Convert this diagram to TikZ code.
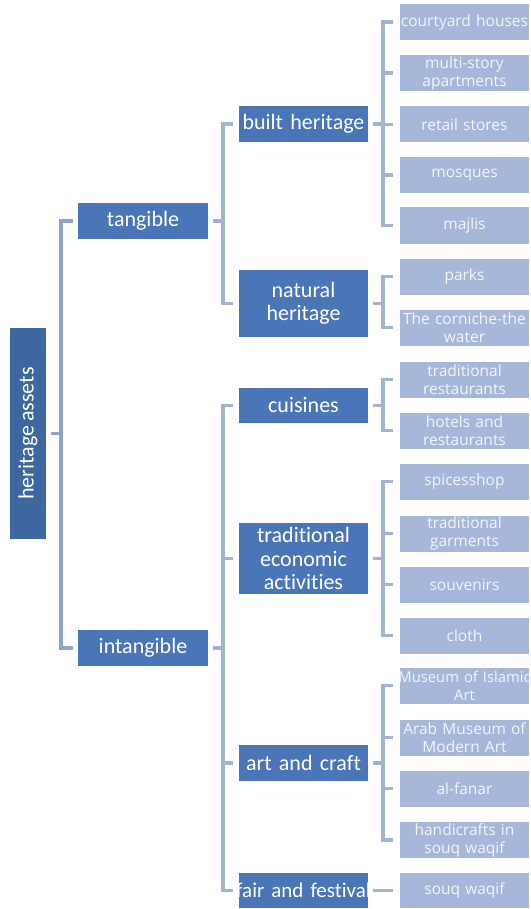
\documentclass[tikz,border=0pt]{standalone}
\usepackage{fontspec}
\setmainfont{Carlito}[Ligatures=NoCommon,WordSpace=0.8]
\newfontfamily\leaffont{Open Sans}
\definecolor{rootblue}{HTML}{3D679E}
\definecolor{midblue}{HTML}{4A76B8}
\definecolor{leafblue}{HTML}{A7B7D9}
\definecolor{connc}{HTML}{A3B3D4}
\definecolor{rootconn}{HTML}{8EA4CB}
\definecolor{leaftext}{HTML}{F2F5FB}
\newcommand{\fitline}[1]{\makebox[\linewidth][c]{#1}}
\begin{document}
\begin{tikzpicture}[x=1pt,y=-1pt,
  rootbox/.style={draw=none,fill=rootblue,text=white,inner sep=0pt,font=\fontsize{22}{26}\selectfont,minimum width=211pt,minimum height=36pt,rotate=90},
  topbox/.style={draw=none,fill=midblue,text=white,inner sep=0pt,font=\fontsize{22}{26}\selectfont,minimum width=130pt,minimum height=36pt},
  midbox/.style={draw=none,fill=midblue,text=white,inner sep=0pt,align=center,text width=129pt,font=\fontsize{22}{23.5}\selectfont,minimum width=129pt,minimum height=36pt},
  leafbox/.style={draw=none,fill=leafblue,text=leaftext,inner sep=0pt,align=center,text width=129pt,font=\leaffont\fontsize{15.5}{18}\selectfont,minimum width=129pt,minimum height=36pt},
  conn/.style={draw=connc,line width=3.5pt,line cap=butt,line join=miter},
  rconn/.style={draw=rootconn,line width=3.5pt,line cap=butt,line join=miter}
]
\useasboundingbox (0,0) rectangle (530,909);

% root
\node[rootbox] (root) at (28,433.5) {heritage assets};

% top level
\node[topbox] (tang) at (143,221) {tangible};
\node[topbox] (intang) at (143,648) {intangible};

% mid level
\node[midbox] (built) at (303.5,124) {built heritage};
\node[midbox,minimum height=67pt] (natural) at (303.5,303.5) {natural\\heritage};
\node[midbox,minimum height=35pt] (cuis) at (303.5,405.5) {cuisines};
\node[midbox,minimum height=71pt] (econ) at (303.5,558.5) {traditional\\economic\\activities};
\node[midbox] (art) at (303.5,763) {art and craft};
\node[midbox,minimum height=35pt,font=\fontsize{21}{23.5}\selectfont] (fair) at (303.5,890.5) {\fitline{fair and festival}};

% leaves
\node[leafbox] (l1) at (464.5,22) {\fitline{courtyard houses}};
\node[leafbox] (l2) at (464.5,73) {multi-story\\apartments};
\node[leafbox] (l3) at (464.5,124.5) {retail stores};
\node[leafbox] (l4) at (464.5,175) {mosques};
\node[leafbox] (l5) at (464.5,225.5) {majlis};
\node[leafbox] (l6) at (464.5,276.5) {parks};
\node[leafbox] (l7) at (464.5,327.5) {\fitline{The corniche-the}\\water};
\node[leafbox] (l8) at (464.5,379.5) {traditional\\restaurants};
\node[leafbox] (l9) at (464.5,430.5) {hotels and\\restaurants};
\node[leafbox] (l10) at (464.5,481.5) {spicesshop};
\node[leafbox] (l11) at (464.5,533.5) {traditional\\garments};
\node[leafbox] (l12) at (464.5,584.5) {souvenirs};
\node[leafbox] (l13) at (464.5,635.5) {cloth};
\node[leafbox,font=\leaffont\fontsize{14.8}{18}\selectfont] (l14) at (464.5,685.5) {\fitline{Museum of Islamic}\\Art};
\node[leafbox] (l15) at (464.5,737.5) {Arab Museum of\\Modern Art};
\node[leafbox] (l16) at (464.5,788.5) {al-fanar};
\node[leafbox] (l17) at (464.5,840) {handicrafts in\\souq waqif};
\node[leafbox,minimum height=35pt] (l18) at (464.5,890.5) {souq waqif};

% root connectors
\draw[rconn] ([xshift=5pt]root.south) -- ++(10,0);
\draw[rconn] ([xshift=-5pt]tang.west) -- ++(-12,0) |- ([xshift=-5pt]intang.west);

% tangible connectors
\draw[conn] ([xshift=5pt]tang.east) -- ++(10,0);
\draw[conn] ([xshift=-6pt]built.west) -- ++(-10,0) |- ([xshift=-6pt]natural.west);

% intangible connectors
\draw[conn] ([xshift=5pt]intang.east) -- ++(10,0);
\draw[conn] ([xshift=-6pt]cuis.west) -- ++(-10,0) |- ([xshift=-6pt]fair.west);
\draw[conn] ([xshift=-6pt]econ.west) -- ++(-10,0);
\draw[conn] ([xshift=-6pt]art.west) -- ++(-10,0);

% built heritage
\draw[conn] ([xshift=5pt]built.east) -- ++(10,0);
\draw[conn] ([xshift=-7pt]l1.west) -- ++(-10,0) |- ([xshift=-7pt]l5.west);
\foreach \n in {l2,l3,l4} \draw[conn] ([xshift=-7pt]\n.west) -- ++(-10,0);

% natural heritage
\draw[conn] ([xshift=5pt]natural.east) -- ++(10,0);
\draw[conn] ([xshift=-7pt]l6.west) -- ++(-10,0) |- ([xshift=-7pt]l7.west);

% cuisines
\draw[conn] ([xshift=5pt]cuis.east) -- ++(10,0);
\draw[conn] ([xshift=-7pt]l8.west) -- ++(-10,0) |- ([xshift=-7pt]l9.west);

% economic
\draw[conn] ([xshift=5pt]econ.east) -- ++(10,0);
\draw[conn] ([xshift=-7pt]l10.west) -- ++(-10,0) |- ([xshift=-7pt]l13.west);
\foreach \n in {l11,l12} \draw[conn] ([xshift=-7pt]\n.west) -- ++(-10,0);

% art and craft
\draw[conn] ([xshift=5pt]art.east) -- ++(10,0);
\draw[conn] ([xshift=-7pt]l14.west) -- ++(-10,0) |- ([xshift=-7pt]l17.west);
\foreach \n in {l15,l16} \draw[conn] ([xshift=-7pt]\n.west) -- ++(-10,0);

% fair and festival
\draw[conn] ([xshift=5pt]fair.east) -- ([xshift=-7pt]l18.west);
\end{tikzpicture}
\end{document}
